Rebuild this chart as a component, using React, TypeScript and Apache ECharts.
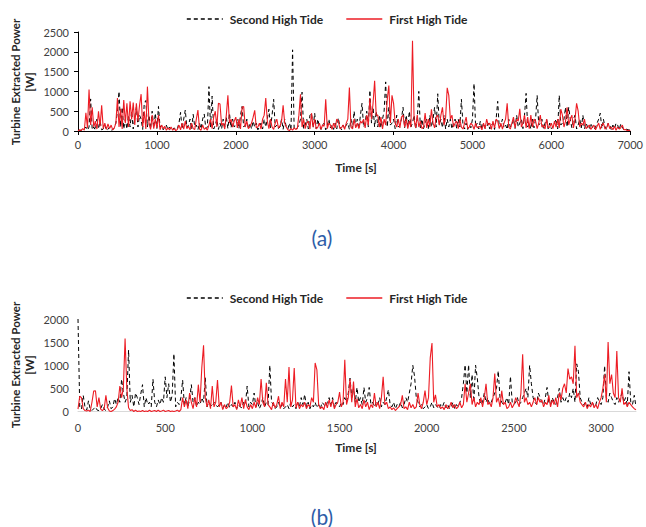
import React, { useEffect, useRef } from "react";
import * as echarts from "echarts";

// ---- Data ----
const STEP_A = 20; // seconds between samples, panel (a)
const STEP_B = 10; // seconds between samples, panel (b)

const legendNames = ["Second High Tide", "First High Tide"];
const yTicksA = { min: 0, max: 2500, interval: 500 };
const xTicksA = { min: 0, max: 7000, interval: 1000 };
const yTicksB = { min: 0, max: 2000, interval: 500 };
const xTicksB = { min: 0, max: 3200, interval: 500 };

// Panel (a) – First High Tide (red)
const firstA = [
  0, 30, 10, 60, 20, 460, 80, 1050, 150, 600,
  100, 250, 50, 500, 120, 650, 60, 200, 40, 180,
  60, 150, 30, 80, 200, 830, 100, 560, 50, 780,
  200, 700, 100, 750, 300, 720, 150, 700, 250, 650,
  930, 100, 500, 50, 1120, 200, 40, 400, 60, 300,
  80, 400, 30, 150, 60, 120, 20, 80, 30, 100,
  20, 60, 10, 40, 150, 30, 200, 50, 250, 60,
  120, 30, 200, 60, 40, 300, 530, 50, 20, 150,
  40, 80, 20, 150, 300, 60, 350, 500, 100, 700,
  680, 150, 200, 50, 400, 900, 200, 300, 100, 250,
  350, 80, 300, 50, 600, 620, 100, 250, 60, 120,
  200, 350, 520, 80, 100, 200, 50, 300, 400, 830,
  250, 60, 300, 100, 40, 200, 300, 80, 120, 250,
  650, 200, 100, 30, 10, 60, 20, 80, 40, 60,
  400, 930, 100, 300, 60, 200, 250, 50, 450, 100,
  300, 50, 100, 200, 40, 150, 120, 800, 60, 200,
  150, 40, 200, 80, 300, 250, 60, 80, 150, 40,
  200, 300, 1100, 100, 50, 300, 80, 200, 60, 250,
  200, 300, 80, 400, 150, 830, 300, 700, 1270, 400,
  400, 100, 350, 50, 300, 150, 800, 1150, 200, 900,
  700, 200, 100, 300, 80, 350, 400, 100, 300, 60,
  250, 100, 2280, 300, 80, 400, 100, 250, 60, 100,
  450, 80, 300, 100, 550, 200, 80, 350, 400, 150,
  400, 600, 150, 350, 1090, 900, 300, 400, 100, 200,
  250, 60, 300, 100, 50, 200, 350, 60, 100, 200,
  150, 40, 200, 80, 100, 120, 30, 200, 60, 300,
  150, 200, 40, 250, 80, 300, 250, 60, 200, 50,
  200, 300, 700, 100, 50, 200, 350, 80, 300, 250,
  560, 100, 200, 400, 80, 350, 60, 400, 100, 300,
  250, 60, 200, 400, 100, 150, 50, 300, 80, 100,
  200, 60, 250, 100, 300, 80, 550, 400, 100, 250,
  600, 150, 300, 400, 80, 300, 700, 500, 100, 200,
  150, 300, 60, 100, 150, 40, 100, 150, 30, 120,
  200, 40, 150, 200, 50, 80, 200, 60, 100, 30,
  120, 20, 100, 50, 80, 150, 30, 40, 10, 20,
  10,
];

// Panel (a) – Second High Tide (black dashed)
const secondA = [
  0, 10, 20, 30, 50, 100, 20, 100, 810, 30,
  100, 20, 300, 50, 250, 30, 50, 150, 20, 40,
  100, 20, 30, 80, 200, 500, 1000, 100, 600, 50,
  300, 50, 400, 100, 500, 50, 350, 600, 100, 400,
  300, 40, 700, 770, 100, 400, 50, 500, 80, 450,
  60, 620, 100, 150, 30, 100, 150, 30, 100, 20,
  40, 80, 20, 60, 200, 470, 50, 300, 530, 80,
  150, 300, 40, 420, 100, 150, 30, 200, 50, 300,
  430, 60, 100, 1120, 100, 880, 50, 150, 300, 40,
  200, 50, 300, 100, 350, 60, 450, 80, 300, 100,
  150, 300, 60, 400, 620, 100, 150, 300, 40, 200,
  50, 250, 100, 200, 30, 100, 200, 50, 300, 100,
  300, 550, 80, 400, 800, 100, 150, 60, 100, 300,
  40, 300, 100, 50, 200, 30, 2050, 40, 50, 80,
  150, 300, 980, 60, 150, 300, 50, 400, 450, 80,
  450, 50, 300, 100, 40, 150, 200, 30, 150, 300,
  80, 150, 40, 200, 50, 330, 100, 30, 150, 60,
  150, 200, 40, 300, 60, 500, 100, 300, 50, 400,
  700, 100, 200, 500, 100, 1030, 200, 600, 100, 500,
  100, 400, 80, 300, 500, 1240, 100, 600, 150, 200,
  300, 60, 400, 100, 150, 300, 600, 80, 400, 100,
  500, 100, 200, 400, 50, 300, 1000, 80, 300, 60,
  200, 300, 50, 400, 100, 300, 600, 100, 940, 150,
  300, 80, 400, 50, 300, 100, 300, 50, 200, 300,
  60, 300, 100, 800, 150, 50, 200, 40, 150, 80,
  300, 1200, 100, 200, 50, 250, 40, 200, 60, 100,
  200, 50, 150, 200, 40, 300, 750, 80, 150, 300,
  80, 150, 40, 300, 100, 150, 300, 60, 400, 100,
  200, 300, 60, 400, 950, 100, 200, 50, 300, 80,
  300, 900, 150, 200, 300, 60, 200, 300, 50, 200,
  60, 100, 200, 300, 50, 900, 150, 200, 300, 600,
  100, 600, 300, 80, 300, 400, 50, 150, 300, 80,
  400, 50, 200, 100, 40, 200, 100, 30, 100, 200,
  300, 450, 60, 300, 100, 40, 200, 150, 30, 150,
  60, 200, 150, 30, 180, 100, 20, 50, 40, 30,
  20,
];

// Panel (b) – First High Tide (red)
const firstB = [
  50, 330, 300, 60, 20, 10, 30, 0, 200, 440,
  450, 100, 300, 50, 20, 60, 350, 80, 10, 0,
  20, 50, 100, 200, 550, 300, 500, 1580, 500, 80,
  20, 40, 0, 30, 0, 10, 0, 20, 0, 10,
  0, 30, 0, 10, 20, 0, 30, 0, 10, 30,
  0, 10, 20, 0, 10, 0, 10, 30, 0, 40,
  300, 100, 250, 60, 400, 200, 60, 300, 100, 580,
  200, 950, 1430, 300, 100, 250, 60, 550, 100, 200,
  680, 100, 200, 40, 150, 60, 100, 200, 560, 100,
  150, 40, 250, 100, 300, 60, 250, 100, 40, 150,
  60, 200, 80, 300, 150, 700, 200, 100, 620, 150,
  100, 40, 200, 80, 150, 330, 60, 200, 100, 700,
  200, 960, 100, 250, 940, 80, 200, 60, 150, 100,
  200, 60, 150, 100, 300, 200, 1050, 900, 150, 60,
  100, 40, 200, 80, 250, 100, 250, 60, 150, 200,
  420, 100, 200, 1120, 150, 300, 700, 200, 650, 100,
  280, 80, 150, 60, 250, 100, 200, 40, 150, 80,
  400, 100, 200, 60, 300, 750, 150, 200, 60, 100,
  40, 80, 20, 60, 100, 150, 350, 60, 100, 40,
  200, 80, 150, 60, 100, 400, 150, 60, 200, 450,
  150, 300, 1160, 1480, 200, 360, 100, 150, 60, 100,
  40, 150, 60, 100, 200, 80, 150, 60, 100, 200,
  80, 150, 600, 200, 400, 600, 150, 300, 100, 200,
  150, 300, 100, 300, 600, 150, 200, 100, 300, 820,
  200, 300, 100, 450, 150, 200, 60, 100, 200, 80,
  150, 300, 200, 100, 400, 1240, 200, 300, 150, 200,
  100, 200, 300, 150, 300, 200, 250, 100, 200, 150,
  350, 100, 250, 150, 300, 100, 400, 250, 500, 600,
  400, 930, 700, 750, 600, 1420, 300, 400, 200, 150,
  100, 200, 60, 150, 100, 200, 80, 150, 60, 200,
  300, 500, 800, 200, 1500, 600, 800, 400, 300, 1310,
  300, 200, 500, 150, 200, 100, 200, 150, 100, 60,
  40,
];

// Panel (b) – Second High Tide (black dashed)
const secondB = [
  2000, 100, 50, 350, 100, 30, 230, 50, 20, 60,
  100, 30, 20, 60, 150, 50, 20, 100, 230, 60,
  100, 280, 150, 300, 200, 700, 400, 200, 300, 1330,
  200, 350, 100, 400, 300, 150, 380, 580, 100, 300,
  150, 200, 100, 700, 200, 100, 250, 150, 300, 200,
  750, 300, 600, 200, 350, 1250, 100, 200, 150, 300,
  680, 150, 300, 100, 250, 580, 200, 300, 100, 200,
  150, 300, 200, 730, 100, 200, 150, 100, 200, 150,
  100, 150, 200, 60, 150, 100, 200, 80, 150, 100,
  200, 60, 150, 100, 80, 200, 150, 550, 100, 200,
  150, 400, 100, 200, 60, 150, 300, 100, 200, 150,
  1000, 200, 150, 60, 100, 200, 80, 150, 60, 100,
  150, 60, 200, 100, 150, 60, 200, 100, 300, 150,
  370, 100, 200, 60, 150, 100, 200, 80, 150, 60,
  200, 150, 100, 200, 300, 150, 300, 100, 200, 150,
  100, 200, 150, 300, 200, 400, 720, 300, 500, 200,
  520, 200, 300, 150, 520, 200, 300, 520, 150, 200,
  100, 200, 150, 300, 100, 200, 150, 300, 470, 150,
  100, 200, 60, 150, 100, 200, 80, 150, 300, 200,
  400, 600, 1000, 760, 300, 200, 100, 150, 60, 100,
  150, 60, 100, 200, 80, 150, 100, 60, 150, 100,
  200, 80, 150, 60, 100, 200, 60, 150, 100, 200,
  300, 600, 1010, 400, 1010, 300, 800, 200, 1000, 720,
  300, 150, 200, 400, 200, 300, 150, 200, 300, 400,
  500, 880, 300, 200, 150, 200, 300, 150, 760, 200,
  150, 200, 300, 150, 200, 300, 400, 500, 300, 1000,
  600, 300, 200, 150, 400, 300, 200, 150, 300, 520,
  200, 150, 300, 200, 150, 300, 500, 200, 300, 200,
  300, 200, 400, 300, 500, 200, 1030, 860, 300, 200,
  150, 200, 100, 300, 150, 200, 100, 150, 300, 200,
  150, 300, 990, 300, 200, 400, 300, 200, 150, 300,
  200, 300, 400, 200, 300, 150, 860, 200, 150, 350,
  100,
];

const FONT = 'Lato, "Noto Sans", sans-serif';
const RED = "#ED1C24";
const BLACK = "#000000";
const TEXT = "#262626";

const toXY = (arr: number[], step: number) => arr.map((v, i) => [i * step, v]);

export default function App() {
  const ref = useRef<HTMLDivElement>(null);

  useEffect(() => {
    document.body.style.margin = "0";
    const chart = echarts.init(ref.current!, null, { renderer: "svg" });

    const axisLabel = {
      fontFamily: FONT,
      fontSize: 11,
      color: "#404040",
      formatter: (v: number) => String(v),
    };
    const blackLine = { color: BLACK, width: 1 };
    const legendBase = {
      data: legendNames,
      left: 181,
      itemWidth: 36,
      itemHeight: 14,
      itemGap: 22,
      lineStyle: { width: 1.6 },
      itemStyle: { opacity: 0 },
      textStyle: { fontFamily: FONT, fontSize: 12, fontWeight: "bold", color: TEXT, padding: [0, 0, 0, 2] },
    };
    const yTitle = (y: number) => ({
      type: "text",
      x: 22,
      y,
      rotation: Math.PI / 2,
      style: {
        text: "Turbine Extracted Power\n[W]",
        fontFamily: FONT,
        fontSize: 11.5,
        fontWeight: "bold",
        fill: TEXT,
        align: "center",
        verticalAlign: "middle",
        lineHeight: 14,
      },
    });
    const xTitle = (y: number) => ({
      type: "text",
      x: 356,
      y,
      style: { text: "Time [s]", fontFamily: FONT, fontSize: 12, fontWeight: "bold", fill: TEXT, align: "center", verticalAlign: "middle" },
    });
    const panelLabel = (text: string, y: number) => ({
      type: "text",
      x: 322,
      y,
      style: { text, fontFamily: FONT, fontSize: 21, fill: "#2E5DA8", align: "center", verticalAlign: "middle" },
    });

    const option: any = {
      animation: false,
      backgroundColor: "#ffffff",
      legend: [
        { ...legendBase, top: 8 },
        { ...legendBase, top: 287 },
      ],
      grid: [
        { left: 78, top: 32, width: 557, height: 99 },
        { left: 78, top: 319, width: 558, height: 92.5 },
      ],
      xAxis: [
        {
          gridIndex: 0,
          type: "value",
          ...xTicksA,
          axisLine: { show: true, lineStyle: blackLine },
          axisTick: { show: true, length: 4, lineStyle: blackLine },
          splitLine: { show: false },
          axisLabel: { ...axisLabel, margin: 8 },
        },
        {
          gridIndex: 1,
          type: "value",
          ...xTicksB,
          axisLine: { show: true, lineStyle: { color: "#D9D9D9", width: 1 } },
          axisTick: { show: false },
          splitLine: { show: false },
          axisLabel: { ...axisLabel, margin: 10, showMaxLabel: false },
        },
      ],
      yAxis: [
        {
          gridIndex: 0,
          type: "value",
          ...yTicksA,
          axisLine: { show: true, lineStyle: blackLine },
          axisTick: { show: true, length: 4, lineStyle: blackLine },
          splitLine: { show: false },
          axisLabel: { ...axisLabel, margin: 9 },
        },
        {
          gridIndex: 1,
          type: "value",
          ...yTicksB,
          axisLine: { show: false },
          axisTick: { show: false },
          splitLine: { show: false },
          axisLabel: { ...axisLabel, margin: 9 },
        },
      ],
      series: [
        {
          name: legendNames[0],
          type: "line",
          xAxisIndex: 0,
          yAxisIndex: 0,
          data: toXY(secondA, STEP_A),
          showSymbol: false,
          symbol: "none",
          lineStyle: { color: BLACK, width: 1, type: [4, 3] },
          itemStyle: { color: BLACK },
        },
        {
          name: legendNames[1],
          type: "line",
          xAxisIndex: 0,
          yAxisIndex: 0,
          data: toXY(firstA, STEP_A),
          showSymbol: false,
          symbol: "none",
          lineStyle: { color: RED, width: 1.1 },
          itemStyle: { color: RED },
        },
        {
          name: legendNames[0],
          type: "line",
          xAxisIndex: 1,
          yAxisIndex: 1,
          data: toXY(secondB, STEP_B),
          showSymbol: false,
          symbol: "none",
          lineStyle: { color: BLACK, width: 1, type: [4, 3] },
          itemStyle: { color: BLACK },
        },
        {
          name: legendNames[1],
          type: "line",
          xAxisIndex: 1,
          yAxisIndex: 1,
          data: toXY(firstB, STEP_B),
          showSymbol: false,
          symbol: "none",
          lineStyle: { color: RED, width: 1.1 },
          itemStyle: { color: RED },
        },
      ],
      graphic: [
        yTitle(82),
        yTitle(365),
        xTitle(167),
        xTitle(447),
        panelLabel("(a)", 237),
        panelLabel("(b)", 516),
      ],
    };

    chart.setOption(option);
    return () => chart.dispose();
  }, []);

  return (
    <div
      ref={ref}
      style={{ position: "absolute", left: 0, top: 0, width: 646, height: 527 }}
    />
  );
}
